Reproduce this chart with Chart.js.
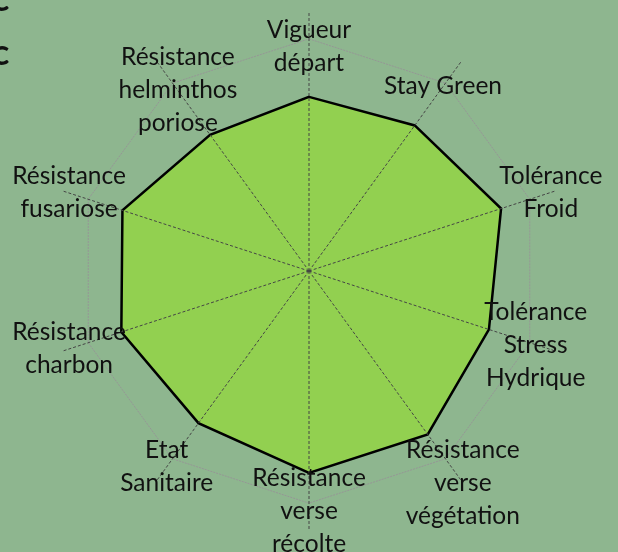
<!DOCTYPE html>
<html>
<head>
<meta charset="utf-8">
<script src="https://cdn.jsdelivr.net/npm/chart.js@4.4.0/dist/chart.umd.min.js"></script>
<style>
  body { margin: 0; background: #8eb68f; overflow: hidden; }
  #wrap { position: relative; width: 618px; height: 552px; }
  .cut { position: absolute; font: bold 36px Lato, sans-serif; line-height: 36px; color: #111; }
</style>
</head>
<body>
<div id="wrap">
  <canvas id="radar" width="618" height="552"></canvas>
  <span class="cut" style="left:-8px; top:-21px">c</span>
  <span class="cut" style="left:-8px; top:33px">c</span>
</div>
<script>
// axes of the radar, one entry per line of the label
const categories = [
  ['Vigueur', 'départ'],
  ['Stay Green'],
  ['Tolérance', 'Froid'],
  ['Tolérance', 'Stress', 'Hydrique'],
  ['Résistance', 'verse', 'végétation'],
  ['Résistance', 'verse', 'récolte'],
  ['Etat', 'Sanitaire'],
  ['Résistance', 'charbon'],
  ['Résistance', 'fusariose'],
  ['Résistance', 'helminthos', 'poriose']
];

// scores, scale 0 - 10
const scores = [7.5, 7.75, 8.7, 8.15, 8.7, 8.7, 8.1, 8.5, 8.45, 7.25];

const outerRing = 10;   // only grid ring drawn
const spokeEnd = 11.2;  // spokes run a bit past the ring

// radial pull (px) for labels the original placed off the usual spot
const labelPull = { 0: 3, 1: -8, 2: 7, 3: -14, 5: 3, 9: -40 };

// draw the axis names (they sit partly inside the ring like the original)
const axisLabels = {
  id: 'axisLabels',
  afterDraw(chart) {
    const scale = chart.scales.r;
    const ctx = chart.ctx;
    const lh = 33;
    const base = scale.getDistanceFromCenterForValue(8.1);
    ctx.save();
    ctx.font = '24.5px Lato';
    ctx.fillStyle = '#111';
    ctx.textAlign = 'center';
    ctx.textBaseline = 'middle';
    categories.forEach(function (lines, i) {
      const w = Math.max.apply(null, lines.map(t => ctx.measureText(t).width));
      const h = lines.length * lh;
      const a = scale.getIndexAngle(i);
      const d = base + Math.abs(Math.sin(a)) * w / 2 + Math.abs(Math.cos(a)) * h / 2 + (labelPull[i] || 0);
      const p = scale.getPointPosition(i, d);
      lines.forEach(function (t, k) {
        ctx.fillText(t, p.x, p.y - h / 2 + lh * (k + 0.5));
      });
    });
    ctx.restore();
  }
};

const ctx = document.getElementById('radar').getContext('2d');

const chart = new Chart(ctx, {
  type: 'radar',
  data: {
    labels: categories,
    datasets: [{
      data: scores,
      backgroundColor: '#92d050',
      borderColor: '#000000',
      borderWidth: 2.5,
      pointRadius: 0,
      fill: true,
      tension: 0
    }]
  },
  options: {
    responsive: false,
    animation: false,
    layout: { padding: { top: 11, bottom: 21, left: 0, right: 0 } },
    plugins: {
      legend: { display: false },
      tooltip: { enabled: false }
    },
    scales: {
      r: {
        min: 0,
        max: spokeEnd,
        ticks: { display: false, stepSize: outerRing, includeBounds: false },
        grid: {
          z: 1,
          color: c => (c.tick && c.tick.value === outerRing) ? '#969696' : 'rgba(0,0,0,0)',
          lineWidth: 1
        },
        border: { dash: [2, 1] },
        angleLines: {
          color: '#454545',
          lineWidth: 1,
          borderDash: [3, 2]
        },
        pointLabels: { display: false }
      }
    }
  },
  plugins: [axisLabels]
});
</script>
</body>
</html>
